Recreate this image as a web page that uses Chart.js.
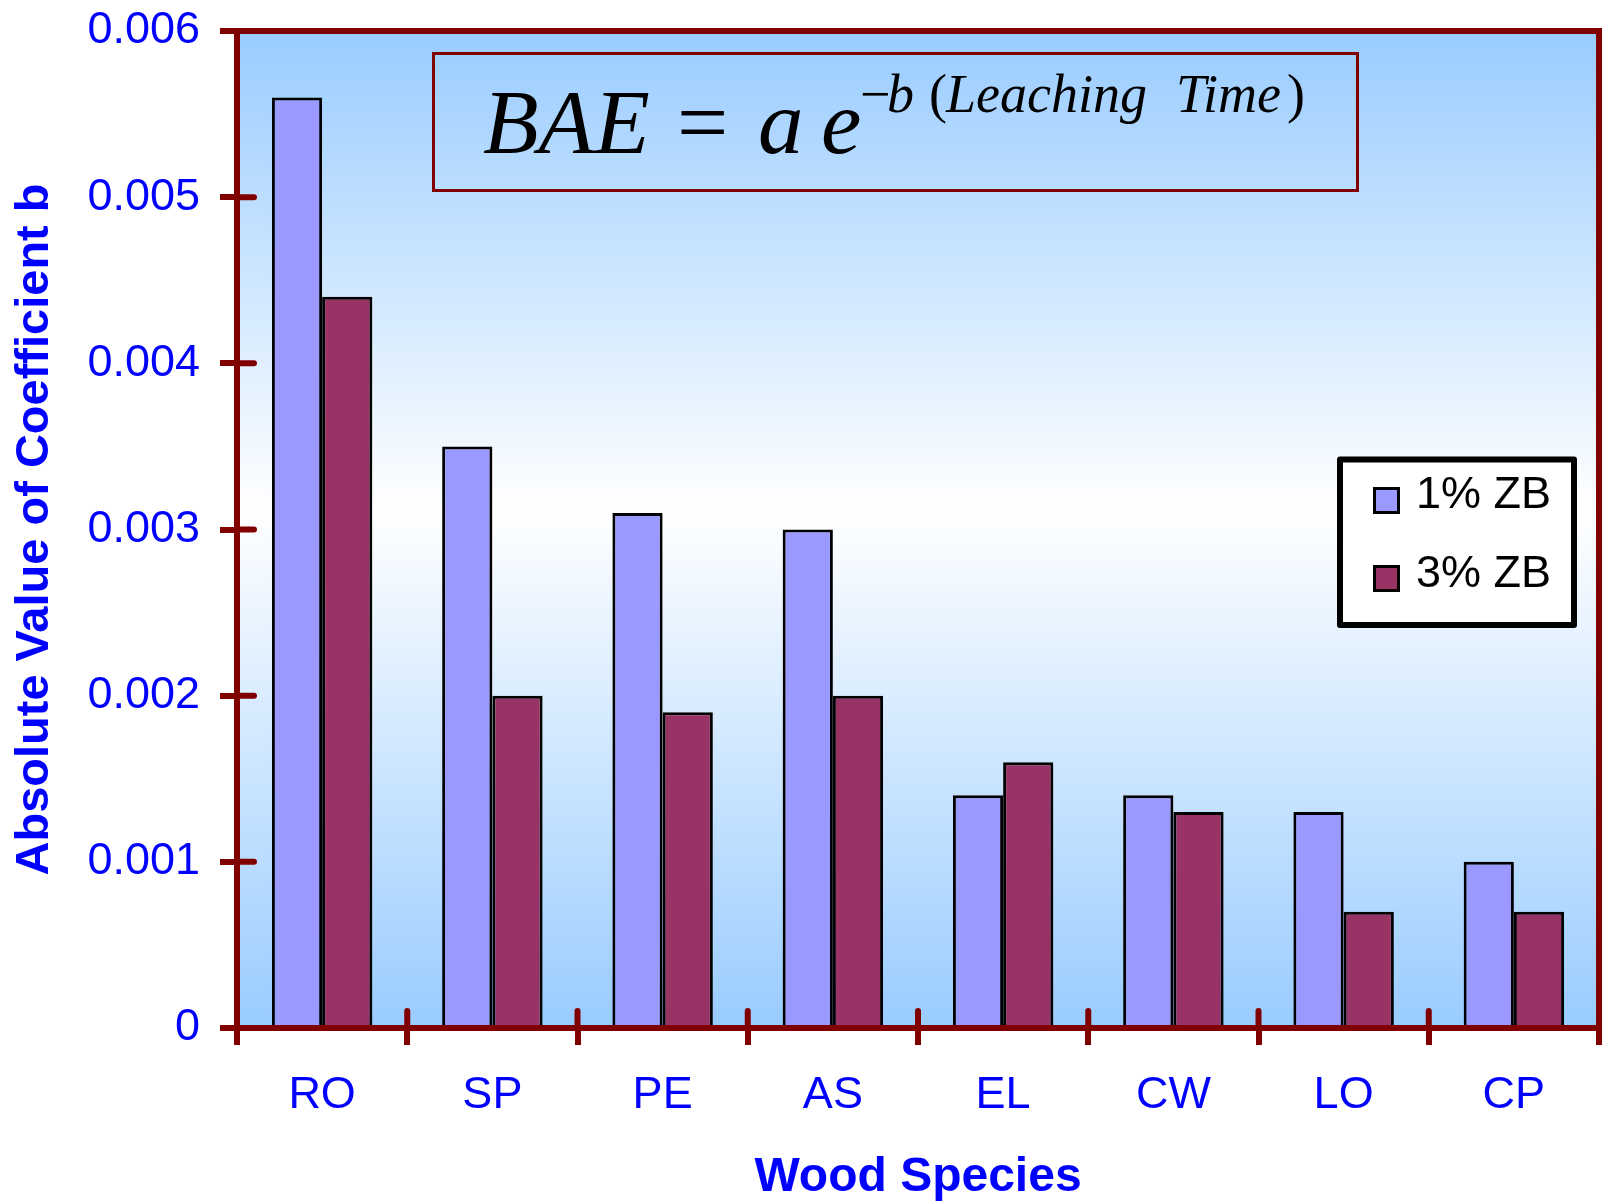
<!DOCTYPE html>
<html>
<head>
<meta charset="utf-8">
<title>Absolute Value of Coefficient b by Wood Species</title>
<script src="https://cdn.jsdelivr.net/npm/chart.js@4.4.1/dist/chart.umd.min.js"></script>
<style>
  html, body { margin: 0; padding: 0; background: #ffffff; }
  canvas { display: block; }
</style>
</head>
<body>
<canvas id="chart" width="1608" height="1204"></canvas>
<script>
// Wood species on the x axis
const species = ['RO', 'SP', 'PE', 'AS', 'EL', 'CW', 'LO', 'CP'];
// |b| for each borate retention
const zb1 = [0.0056, 0.0035, 0.0031, 0.0030, 0.0014, 0.0014, 0.0013, 0.0010];
const zb3 = [0.0044, 0.0020, 0.0019, 0.0020, 0.0016, 0.0013, 0.0007, 0.0007];
const seriesLabels = ['1% ZB', '3% ZB'];
// y-axis tick labels, bottom to top
const yTickLabels = ['0', '0.001', '0.002', '0.003', '0.004', '0.005', '0.006'];

const SANS = "'Liberation Sans', Arial, Helvetica, sans-serif";
const SERIF = "'Liberation Serif', 'Times New Roman', Times, serif";
const AXIS_RED = '#800000';
const BLUE = '#0000FF';
const STUB = 17;

// Plot background: blue at top and bottom fading to white in the middle
const plotBackground = {
  id: 'plotBackground',
  beforeDraw(chart) {
    const { ctx, chartArea: a } = chart;
    ctx.save();
    ctx.fillStyle = '#ffffff';
    ctx.fillRect(0, 0, chart.width, chart.height);
    const g = ctx.createLinearGradient(0, a.top, 0, a.bottom);
    g.addColorStop(0, '#99CCFF');
    g.addColorStop(0.48, '#FFFFFF');
    g.addColorStop(1, '#99CCFF');
    ctx.fillStyle = g;
    ctx.fillRect(a.left, a.top, a.right - a.left, a.bottom - a.top);
    ctx.restore();
  }
};

// Frame on top/right, inward tick stubs, formula box and legend
const decorations = {
  id: 'decorations',
  afterDraw(chart) {
    const { ctx, chartArea: a } = chart;
    const xs = chart.scales.x, ys = chart.scales.y;
    ctx.save();

    // top and right frame
    ctx.strokeStyle = AXIS_RED;
    ctx.lineWidth = 6;
    ctx.lineCap = 'butt';
    ctx.beginPath();
    ctx.moveTo(a.left - 3, a.top);
    ctx.lineTo(a.right, a.top);
    ctx.lineTo(a.right, a.bottom + 3);
    ctx.stroke();

    // tick stubs inside the plot
    ctx.lineCap = 'round';
    ctx.beginPath();
    for (let i = 1; i < species.length; i++) {
      const px = (xs.getPixelForValue(i - 1) + xs.getPixelForValue(i)) / 2;
      ctx.moveTo(px, a.bottom);
      ctx.lineTo(px, a.bottom - STUB);
    }
    ys.ticks.forEach((t, i) => {
      if (i === 0 || i === ys.ticks.length - 1) return;
      const py = ys.getPixelForValue(t.value);
      ctx.moveTo(a.left, py);
      ctx.lineTo(a.left + STUB, py);
    });
    ctx.stroke();

    // formula box
    ctx.lineCap = 'butt';
    ctx.lineWidth = 3;
    ctx.strokeStyle = AXIS_RED;
    ctx.strokeRect(433.5, 53.5, 924, 137);

    ctx.fillStyle = '#000000';
    ctx.textBaseline = 'alphabetic';
    ctx.textAlign = 'left';
    ctx.font = 'italic 91px ' + SERIF;
    ctx.fillText('BAE', 483, 153);
    ctx.font = '91px ' + SERIF;
    ctx.fillText('=', 677, 153);
    ctx.font = 'italic 91px ' + SERIF;
    ctx.fillText('a', 758, 153);
    ctx.fillText('e', 821, 153);
    ctx.font = '54px ' + SERIF;
    ctx.fillText('\u2212', 860, 112);
    ctx.font = 'italic 54px ' + SERIF;
    ctx.fillText('b', 887, 112);
    ctx.font = '54px ' + SERIF;
    ctx.fillText('(', 929, 112);
    ctx.font = 'italic 54px ' + SERIF;
    ctx.fillText('Leaching', 946, 112);
    ctx.fillText('Time', 1176, 112);
    ctx.font = '54px ' + SERIF;
    ctx.fillText(')', 1287, 112);

    // legend
    ctx.fillStyle = '#ffffff';
    ctx.strokeStyle = '#000000';
    ctx.lineWidth = 6;
    ctx.lineJoin = 'round';
    ctx.beginPath();
    ctx.rect(1340, 459.5, 234, 165.5);
    ctx.fill();
    ctx.stroke();

    const rows = [{ box: 488.5, text: 495.5 }, { box: 566.5, text: 575 }];
    chart.data.datasets.forEach((ds, i) => {
      const r = rows[i];
      ctx.lineWidth = 3;
      ctx.lineJoin = 'miter';
      ctx.fillStyle = ds.backgroundColor;
      ctx.fillRect(1374.5, r.box, 24, 24);
      ctx.strokeRect(1374.5, r.box, 24, 24);
      ctx.fillStyle = '#000000';
      ctx.font = '45px ' + SANS;
      ctx.textBaseline = 'middle';
      ctx.fillText(ds.label, 1416, r.text);
    });

    ctx.restore();
  }
};

new Chart(document.getElementById('chart'), {
  type: 'bar',
  data: {
    labels: species,
    datasets: [
      { label: seriesLabels[0], data: zb1, backgroundColor: '#9999FF', borderColor: '#000000', borderWidth: 3 },
      { label: seriesLabels[1], data: zb3, backgroundColor: '#993366', borderColor: '#000000', borderWidth: 3 }
    ]
  },
  options: {
    responsive: false,
    animation: false,
    devicePixelRatio: 1,
    layout: { padding: { left: 0, right: 9, top: 31, bottom: 0 } },
    datasets: { bar: { categoryPercentage: 0.59, barPercentage: 1.0 } },
    plugins: {
      legend: { display: false },
      tooltip: { enabled: false }
    },
    scales: {
      x: {
        z: 1,
        offset: true,
        grid: {
          offset: true,
          drawOnChartArea: false,
          drawTicks: true,
          tickLength: STUB,
          tickWidth: 6,
          tickColor: AXIS_RED,
          color: AXIS_RED,
          lineWidth: 6
        },
        border: { display: true, color: AXIS_RED, width: 6 },
        ticks: {
          color: BLUE,
          font: { family: SANS, size: 45 },
          padding: 24,
          maxRotation: 0,
          autoSkip: false
        },
        title: {
          display: true,
          text: 'Wood Species',
          color: BLUE,
          font: { family: SANS, size: 48, weight: 'bold', lineHeight: 1.08 },
          padding: { top: 0, bottom: 0 }
        },
        afterFit(scale) {
          scale.height = 176;
          scale.paddingLeft = 0;
          scale.paddingRight = 0;
        }
      },
      y: {
        z: 1,
        min: 0,
        max: 0.006,
        grid: {
          drawOnChartArea: false,
          drawTicks: true,
          tickLength: STUB,
          tickWidth: 6,
          tickColor: AXIS_RED,
          color: AXIS_RED,
          lineWidth: 6
        },
        border: { display: true, color: AXIS_RED, width: 6 },
        ticks: {
          stepSize: 0.001,
          color: BLUE,
          font: { family: SANS, size: 45 },
          padding: 20,
          callback: (value, index) => yTickLabels[index] ?? ''
        },
        title: {
          display: true,
          text: 'Absolute Value of Coefficient b',
          color: BLUE,
          font: { family: SANS, size: 47, weight: 'bold' },
          padding: { top: 7, bottom: 0 }
        },
        afterFit(scale) {
          scale.width = 237;
          scale.paddingTop = 0;
          scale.paddingBottom = 0;
        }
      }
    }
  },
  plugins: [plotBackground, decorations]
});
</script>
</body>
</html>
